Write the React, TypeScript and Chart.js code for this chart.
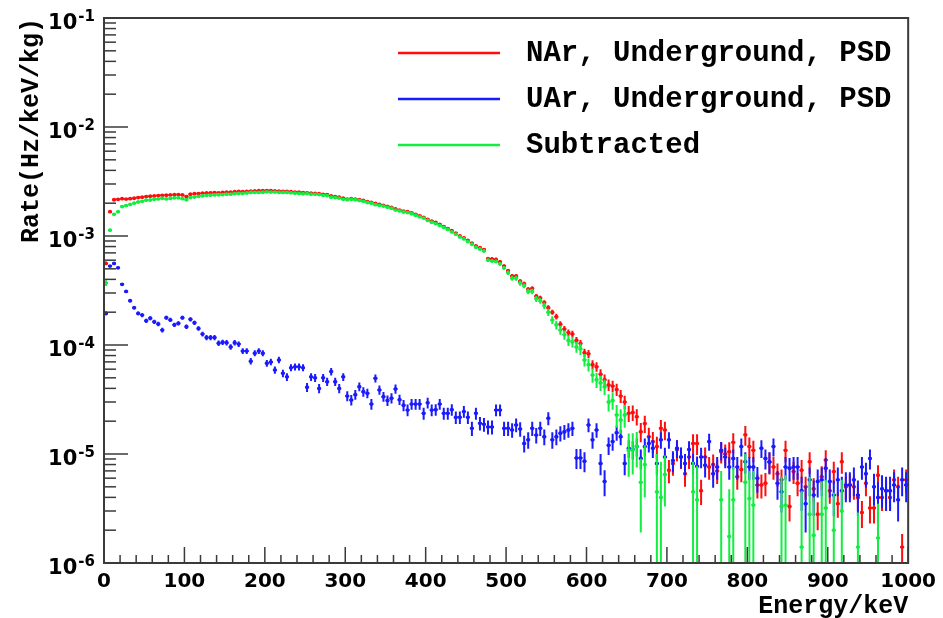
import React, { useEffect, useRef } from 'react';
import { Chart, registerables } from 'chart.js';

Chart.register(...registerables);

// ---------------- data ----------------
const BIN_WIDTH = 5; // keV
const N_BINS = 200;
const X_MIN = 0;
const X_MAX = 1000;
const X_TICK_LABELS = [0, 100, 200, 300, 400, 500, 600, 700, 800, 900, 1000];
const Y_MIN = 1e-6;
const Y_MAX = 1e-1;
const Y_DECADE_EXPONENTS = [-6, -5, -4, -3, -2, -1];
const SERIES_LABELS = ['NAr, Underground, PSD', 'UAr, Underground, PSD', 'Subtracted'];
const SERIES_COLORS = ['#ff0d0d', '#1a1aff', '#12ee40'];
const X_TITLE = 'Energy/keV';
const Y_TITLE = 'Rate(Hz/keV/kg)';

const ENERGY = Array.from({ length: N_BINS }, (_, i) => X_MIN + BIN_WIDTH * (i + 0.5));

const NAR = [
  5.6e-4, 1.67e-3, 2.15e-3, 2.17e-3, 2.2e-3, 2.18e-3, 2.2e-3, 2.22e-3, 2.25e-3, 2.27e-3,
  2.3e-3, 2.32e-3, 2.33e-3, 2.35e-3, 2.36e-3, 2.37e-3, 2.38e-3, 2.39e-3, 2.4e-3, 2.38e-3,
  2.3e-3, 2.42e-3, 2.44e-3, 2.45e-3, 2.47e-3, 2.48e-3, 2.49e-3, 2.5e-3, 2.49e-3, 2.51e-3,
  2.53e-3, 2.52e-3, 2.55e-3, 2.56e-3, 2.55e-3, 2.57e-3, 2.58e-3, 2.59e-3, 2.6e-3, 2.6e-3,
  2.61e-3, 2.6e-3, 2.59e-3, 2.58e-3, 2.57e-3, 2.56e-3, 2.55e-3, 2.53e-3, 2.52e-3, 2.5e-3,
  2.49e-3, 2.47e-3, 2.46e-3, 2.44e-3, 2.41e-3, 2.4e-3, 2.33e-3, 2.3e-3, 2.27e-3, 2.22e-3,
  2.18e-3, 2.2e-3, 2.18e-3, 2.16e-3, 2.12e-3, 2.07e-3, 2.03e-3, 1.99e-3, 1.95e-3, 1.91e-3,
  1.87e-3, 1.83e-3, 1.77e-3, 1.73e-3, 1.69e-3, 1.67e-3, 1.63e-3, 1.58e-3, 1.53e-3, 1.48e-3,
  1.42e-3, 1.37e-3, 1.33e-3, 1.28e-3, 1.22e-3, 1.17e-3, 1.12e-3, 1.06e-3, 1.0e-3, 9.6e-4,
  9.1e-4, 8.6e-4, 8.1e-4, 7.8e-4, 7.5e-4, 6.2e-4, 6.15e-4, 6.1e-4, 5.8e-4, 5.3e-4,
  4.8e-4, 4.3e-4, 4.3e-4, 3.85e-4, 3.65e-4, 3.25e-4, 3.3e-4, 2.8e-4, 2.7e-4, 2.45e-4,
  2.2e-4, 2.0e-4, 1.82e-4, 1.55e-4, 1.4e-4, 1.3e-4, 1.26e-4, 1.1e-4, 1.03e-4, 8.5e-5,
  8.3e-5, 6.6e-5, 6.3e-5, 5.4e-5, 4.8e-5, 4.3e-5, 4.2e-5, 3.9e-5, 3.4e-5, 3.0e-5,
  2.36e-5, 2.4e-5, 2.2e-5, 1.6e-5, 1.9e-5, 1.44e-5, 1.3e-5, 1.17e-5, 1.72e-5, 1.66e-5,
  7.1e-6, 8.2e-6, 1.1e-5, 9.4e-6, 6.6e-6, 9.4e-6, 1.25e-5, 1.25e-5, 4.6e-6, 9.4e-6,
  7.6e-6, 8.0e-6, 7.0e-6, 1.05e-5, 1.0e-5, 1.05e-5, 1.28e-5, 6.2e-6, 7.2e-6, 1.5e-5,
  1.17e-5, 1.08e-5, 5.2e-6, 5.2e-6, 5.4e-6, 8.4e-6, 7.6e-6, 6.6e-6, 5.8e-6, 1.08e-5,
  3.3e-6, 6.9e-6, 5.4e-6, 7.1e-6, 5.0e-6, 8.5e-6, 4.8e-6, 2.8e-6, 6.2e-6, 8.8e-6,
  4.6e-6, 6.9e-6, 3.5e-6, 8.5e-6, 5.0e-6, 5.2e-6, 5.0e-6, 4.0e-6, 2.9e-6, 5.4e-6,
  3.2e-6, 3.2e-6, 6.4e-6, 4.0e-6, 4.6e-6, 4.0e-6, 5.8e-6, 5.0e-6, 1.4e-6, 5.8e-6,
];

const NAR_ERR = [
  1.9e-5, 3.2e-5, 3.7e-5, 3.7e-5, 3.7e-5, 3.7e-5, 3.7e-5, 3.7e-5, 3.8e-5, 3.8e-5,
  3.8e-5, 3.8e-5, 3.8e-5, 3.8e-5, 3.9e-5, 3.9e-5, 3.9e-5, 3.9e-5, 3.9e-5, 3.9e-5,
  3.8e-5, 3.9e-5, 3.9e-5, 3.9e-5, 3.9e-5, 4.0e-5, 4.0e-5, 4.0e-5, 4.0e-5, 4.0e-5,
  4.0e-5, 4.0e-5, 4.0e-5, 4.0e-5, 4.0e-5, 4.0e-5, 4.0e-5, 4.0e-5, 4.0e-5, 4.0e-5,
  4.0e-5, 4.0e-5, 4.0e-5, 4.0e-5, 4.0e-5, 4.0e-5, 4.0e-5, 4.0e-5, 4.0e-5, 4.0e-5,
  4.0e-5, 3.9e-5, 3.9e-5, 3.9e-5, 3.9e-5, 3.9e-5, 3.8e-5, 3.8e-5, 3.8e-5, 3.7e-5,
  3.7e-5, 3.7e-5, 3.7e-5, 3.7e-5, 3.6e-5, 3.6e-5, 3.6e-5, 3.5e-5, 3.5e-5, 3.5e-5,
  3.4e-5, 3.4e-5, 3.3e-5, 3.3e-5, 3.3e-5, 3.2e-5, 3.2e-5, 3.2e-5, 3.1e-5, 3.1e-5,
  3.0e-5, 2.9e-5, 2.9e-5, 2.8e-5, 2.8e-5, 2.7e-5, 2.7e-5, 2.6e-5, 2.5e-5, 2.5e-5,
  2.4e-5, 2.3e-5, 2.3e-5, 2.2e-5, 2.2e-5, 2.0e-5, 2.0e-5, 2.0e-5, 1.9e-5, 1.8e-5,
  1.7e-5, 1.6e-5, 1.6e-5, 1.6e-5, 1.5e-5, 1.4e-5, 1.4e-5, 1.3e-5, 1.3e-5, 1.2e-5,
  1.2e-5, 1.1e-5, 1.1e-5, 9.9e-6, 9.4e-6, 9.0e-6, 8.9e-6, 8.3e-6, 8.1e-6, 7.3e-6,
  7.2e-6, 6.4e-6, 6.3e-6, 5.8e-6, 5.5e-6, 5.2e-6, 5.1e-6, 5.0e-6, 4.6e-6, 4.3e-6,
  3.9e-6, 3.9e-6, 3.7e-6, 3.2e-6, 3.4e-6, 3.0e-6, 2.9e-6, 2.7e-6, 3.3e-6, 3.2e-6,
  1.7e-6, 1.9e-6, 2.4e-6, 2.1e-6, 1.6e-6, 2.1e-6, 2.7e-6, 2.7e-6, 1.2e-6, 2.1e-6,
  1.8e-6, 1.9e-6, 1.7e-6, 2.3e-6, 2.2e-6, 2.3e-6, 2.7e-6, 1.5e-6, 1.7e-6, 3.1e-6,
  2.5e-6, 2.4e-6, 1.3e-6, 1.3e-6, 1.3e-6, 1.9e-6, 1.8e-6, 1.6e-6, 1.4e-6, 2.4e-6,
  0.9e-6, 1.6e-6, 1.3e-6, 1.7e-6, 1.2e-6, 1.9e-6, 1.2e-6, 0.8e-6, 1.5e-6, 2.0e-6,
  1.1e-6, 1.6e-6, 0.9e-6, 1.9e-6, 1.2e-6, 1.3e-6, 1.2e-6, 1.0e-6, 0.8e-6, 1.3e-6,
  0.9e-6, 0.9e-6, 1.5e-6, 1.0e-6, 1.1e-6, 1.0e-6, 1.4e-6, 1.2e-6, 0.45e-6, 1.4e-6,
];

const UAR = [
  1.95e-4, 5.3e-4, 5.6e-4, 5.1e-4, 3.6e-4, 3.1e-4, 2.55e-4, 2.2e-4, 1.95e-4, 1.88e-4,
  1.67e-4, 1.76e-4, 1.63e-4, 1.56e-4, 1.37e-4, 1.78e-4, 1.7e-4, 1.53e-4, 1.58e-4, 1.78e-4,
  1.47e-4, 1.72e-4, 1.6e-4, 1.42e-4, 1.26e-4, 1.17e-4, 1.17e-4, 1.17e-4, 1.04e-4, 1.06e-4,
  1.05e-4, 9.6e-5, 1.05e-4, 1.02e-4, 8.8e-5, 8.8e-5, 7.1e-5, 8.4e-5, 8.8e-5, 8.4e-5,
  6.8e-5, 7.0e-5, 5.9e-5, 7.3e-5, 5.5e-5, 5.1e-5, 6.2e-5, 6.3e-5, 6.3e-5, 6.2e-5,
  4.1e-5, 5.1e-5, 5.0e-5, 4.0e-5, 5.0e-5, 4.6e-5, 5.7e-5, 4.6e-5, 4.0e-5, 5.1e-5,
  3.4e-5, 3.13e-5, 3.5e-5, 4.15e-5, 3.73e-5, 3.6e-5, 2.87e-5, 4.95e-5, 3.87e-5, 3.36e-5,
  3.1e-5, 3.25e-5, 3.95e-5, 3.15e-5, 2.8e-5, 2.53e-5, 2.87e-5, 2.87e-5, 2.87e-5, 2.36e-5,
  2.95e-5, 2.53e-5, 2.55e-5, 2.87e-5, 2.36e-5, 2.36e-5, 2.55e-5, 2.17e-5, 2.17e-5, 2.45e-5,
  2.17e-5, 1.72e-5, 2.36e-5, 1.91e-5, 1.87e-5, 1.77e-5, 1.77e-5, 2.53e-5, 2.53e-5, 1.72e-5,
  1.72e-5, 1.66e-5, 1.85e-5, 1.7e-5, 1.25e-5, 1.35e-5, 1.72e-5, 1.49e-5, 1.72e-5, 1.44e-5,
  2.13e-5, 1.35e-5, 1.44e-5, 1.55e-5, 1.6e-5, 1.66e-5, 1.72e-5, 9.2e-6, 9.2e-6, 8.6e-6,
  1.85e-5, 1.35e-5, 1.66e-5, 8.2e-6, 5.6e-6, 1.2e-5, 1.3e-5, 1.57e-5, 1.44e-5, 8.2e-6,
  1.13e-5, 1.1e-5, 1.17e-5, 9.1e-6, 1.17e-5, 1.25e-5, 1.13e-5, 8.2e-6, 1.35e-5, 9.4e-6,
  1.35e-5, 8.7e-6, 1.13e-5, 9.4e-6, 8.2e-6, 1.1e-5, 8.2e-6, 7.7e-6, 9.4e-6, 7.9e-6,
  1.3e-5, 6.6e-6, 7.6e-6, 1.08e-5, 9.4e-6, 7.6e-6, 9.1e-6, 7.6e-6, 1.17e-5, 8.5e-6,
  7.6e-6, 7.6e-6, 6.0e-6, 1.13e-5, 9.1e-6, 8.5e-6, 1.17e-5, 5.4e-6, 4.5e-6, 7.6e-6,
  7.4e-6, 7.6e-6, 7.6e-6, 4.6e-6, 3.5e-6, 5.8e-6, 4.2e-6, 5.6e-6, 5.8e-6, 7.4e-6,
  5.6e-6, 4.2e-6, 5.8e-6, 4.6e-6, 5.2e-6, 5.2e-6, 5.8e-6, 4.2e-6, 7.6e-6, 6.6e-6,
  9.1e-6, 5.0e-6, 4.0e-6, 4.8e-6, 4.6e-6, 4.6e-6, 5.2e-6, 3.8e-6, 5.8e-6, 5.2e-6,
];

const UAR_ERR = [
  8.0e-6, 1.3e-5, 1.3e-5, 1.3e-5, 1.1e-5, 1.0e-5, 9.0e-6, 8.5e-6, 8.0e-6, 8.0e-6,
  7.5e-6, 7.7e-6, 7.4e-6, 7.2e-6, 6.8e-6, 7.7e-6, 7.5e-6, 7.1e-6, 7.2e-6, 7.7e-6,
  7.0e-6, 7.6e-6, 7.3e-6, 6.9e-6, 6.5e-6, 6.3e-6, 6.3e-6, 6.3e-6, 5.9e-6, 6.0e-6,
  5.9e-6, 5.7e-6, 5.9e-6, 5.9e-6, 5.4e-6, 5.4e-6, 4.9e-6, 5.3e-6, 5.4e-6, 5.3e-6,
  4.8e-6, 4.9e-6, 4.5e-6, 5.0e-6, 4.4e-6, 4.2e-6, 4.6e-6, 4.7e-6, 4.7e-6, 4.6e-6,
  3.9e-6, 4.2e-6, 4.2e-6, 3.9e-6, 4.2e-6, 4.0e-6, 4.4e-6, 4.0e-6, 3.9e-6, 4.2e-6,
  3.6e-6, 3.5e-6, 3.6e-6, 3.8e-6, 3.7e-6, 3.6e-6, 3.3e-6, 4.1e-6, 3.7e-6, 3.5e-6,
  3.4e-6, 3.5e-6, 3.8e-6, 3.4e-6, 3.3e-6, 3.1e-6, 3.3e-6, 3.3e-6, 3.3e-6, 3.0e-6,
  3.3e-6, 3.1e-6, 3.1e-6, 3.3e-6, 3.0e-6, 3.0e-6, 3.1e-6, 2.9e-6, 2.9e-6, 3.0e-6,
  2.9e-6, 2.6e-6, 3.0e-6, 2.7e-6, 2.7e-6, 2.6e-6, 2.6e-6, 3.1e-6, 3.1e-6, 2.6e-6,
  2.6e-6, 2.5e-6, 2.7e-6, 2.6e-6, 2.2e-6, 2.3e-6, 2.6e-6, 2.4e-6, 2.6e-6, 2.4e-6,
  2.9e-6, 2.3e-6, 2.4e-6, 2.5e-6, 2.5e-6, 2.5e-6, 2.6e-6, 1.9e-6, 1.9e-6, 1.8e-6,
  2.7e-6, 2.3e-6, 2.5e-6, 1.8e-6, 1.5e-6, 2.2e-6, 2.3e-6, 2.5e-6, 2.4e-6, 1.8e-6,
  2.1e-6, 2.1e-6, 2.2e-6, 1.9e-6, 2.2e-6, 2.2e-6, 2.1e-6, 1.8e-6, 2.3e-6, 2.0e-6,
  2.3e-6, 1.9e-6, 2.1e-6, 2.0e-6, 1.8e-6, 2.1e-6, 1.8e-6, 1.8e-6, 2.0e-6, 1.8e-6,
  2.3e-6, 1.7e-6, 1.8e-6, 2.1e-6, 2.0e-6, 1.8e-6, 1.9e-6, 1.8e-6, 2.2e-6, 1.9e-6,
  1.8e-6, 1.8e-6, 1.6e-6, 2.1e-6, 1.9e-6, 1.9e-6, 2.2e-6, 1.6e-6, 1.6e-6, 1.8e-6,
  1.8e-6, 1.8e-6, 1.8e-6, 1.6e-6, 1.6e-6, 1.7e-6, 1.5e-6, 1.6e-6, 1.7e-6, 1.8e-6,
  1.6e-6, 1.5e-6, 1.7e-6, 1.6e-6, 1.6e-6, 1.6e-6, 1.7e-6, 1.5e-6, 1.8e-6, 1.7e-6,
  1.9e-6, 1.6e-6, 1.5e-6, 1.6e-6, 1.6e-6, 1.6e-6, 1.6e-6, 1.4e-6, 1.7e-6, 1.6e-6,
];

const SUBTRACTED = [
  3.7e-4, 1.13e-3, 1.58e-3, 1.67e-3, 1.86e-3, 1.9e-3, 1.95e-3, 2.0e-3, 2.05e-3, 2.08e-3,
  2.13e-3, 2.14e-3, 2.17e-3, 2.19e-3, 2.22e-3, 2.19e-3, 2.21e-3, 2.24e-3, 2.24e-3, 2.2e-3,
  2.15e-3, 2.25e-3, 2.28e-3, 2.31e-3, 2.34e-3, 2.36e-3, 2.37e-3, 2.38e-3, 2.39e-3, 2.4e-3,
  2.42e-3, 2.42e-3, 2.45e-3, 2.46e-3, 2.46e-3, 2.48e-3, 2.51e-3, 2.51e-3, 2.51e-3, 2.52e-3,
  2.54e-3, 2.53e-3, 2.53e-3, 2.51e-3, 2.51e-3, 2.51e-3, 2.49e-3, 2.47e-3, 2.46e-3, 2.44e-3,
  2.45e-3, 2.42e-3, 2.41e-3, 2.4e-3, 2.36e-3, 2.35e-3, 2.27e-3, 2.25e-3, 2.23e-3, 2.17e-3,
  2.15e-3, 2.17e-3, 2.15e-3, 2.12e-3, 2.08e-3, 2.03e-3, 2.0e-3, 1.94e-3, 1.91e-3, 1.88e-3,
  1.84e-3, 1.8e-3, 1.73e-3, 1.7e-3, 1.66e-3, 1.64e-3, 1.6e-3, 1.55e-3, 1.5e-3, 1.46e-3,
  1.39e-3, 1.34e-3, 1.3e-3, 1.25e-3, 1.2e-3, 1.15e-3, 1.09e-3, 1.04e-3, 9.8e-4, 9.4e-4,
  8.9e-4, 8.4e-4, 7.9e-4, 7.6e-4, 7.3e-4, 6.0e-4, 5.9e-4, 5.85e-4, 5.55e-4, 5.1e-4,
  4.6e-4, 4.1e-4, 4.1e-4, 3.7e-4, 3.5e-4, 3.1e-4, 3.1e-4, 2.65e-4, 2.55e-4, 2.3e-4,
  2.0e-4, 1.7e-4, 1.53e-4, 1.37e-4, 1.24e-4, 1.1e-4, 1.07e-4, 9.6e-5, 9.2e-5, 7.3e-5,
  6.6e-5, 5.3e-5, 4.8e-5, 4.5e-5, 4.15e-5, 3.0e-5, 3.1e-5, 2.28e-5, 2.05e-5, 2.28e-5,
  1.08e-5, 1.1e-5, 1.17e-5, 5.5e-6, 8.0e-6, null, null, 4.5e-6, 4.0e-6, 6.5e-6,
  null, null, null, null, null, null, 4.5e-6, 3.8e-6, null, null,
  null, null, null, 3.8e-6, null, 1.75e-6, 3.8e-6, null, null, 5.5e-6,
  3.9e-6, 3.4e-6, null, null, null, null, null, null, 3.3e-6, 3.4e-6,
  null, null, null, 1.4e-6, null, 2.8e-6, 1.8e-6, null, 2.8e-6, 3.2e-6,
  null, 2.0e-6, null, 3.0e-6, null, null, null, 1.4e-6, null, null,
  null, null, 1.7e-6, null, null, null, null, null, null, null,
];

const SUBTRACTED_ERR = [
  2.2e-5, 3.5e-5, 3.8e-5, 3.8e-5, 3.9e-5, 3.9e-5, 3.9e-5, 3.9e-5, 4.0e-5, 4.0e-5,
  4.0e-5, 4.0e-5, 4.0e-5, 4.0e-5, 4.1e-5, 4.1e-5, 4.1e-5, 4.1e-5, 4.1e-5, 4.1e-5,
  4.0e-5, 4.1e-5, 4.1e-5, 4.1e-5, 4.1e-5, 4.2e-5, 4.2e-5, 4.2e-5, 4.2e-5, 4.2e-5,
  4.2e-5, 4.2e-5, 4.2e-5, 4.2e-5, 4.2e-5, 4.2e-5, 4.2e-5, 4.2e-5, 4.2e-5, 4.2e-5,
  4.2e-5, 4.2e-5, 4.2e-5, 4.2e-5, 4.2e-5, 4.2e-5, 4.2e-5, 4.2e-5, 4.2e-5, 4.2e-5,
  4.2e-5, 4.1e-5, 4.1e-5, 4.1e-5, 4.1e-5, 4.1e-5, 4.0e-5, 4.0e-5, 4.0e-5, 3.9e-5,
  3.9e-5, 3.9e-5, 3.9e-5, 3.9e-5, 3.8e-5, 3.8e-5, 3.8e-5, 3.7e-5, 3.7e-5, 3.7e-5,
  3.6e-5, 3.6e-5, 3.5e-5, 3.5e-5, 3.5e-5, 3.4e-5, 3.4e-5, 3.4e-5, 3.3e-5, 3.3e-5,
  3.2e-5, 3.1e-5, 3.1e-5, 3.0e-5, 3.0e-5, 2.9e-5, 2.9e-5, 2.8e-5, 2.7e-5, 2.7e-5,
  2.6e-5, 2.5e-5, 2.5e-5, 2.4e-5, 2.4e-5, 2.2e-5, 2.2e-5, 2.2e-5, 2.1e-5, 2.0e-5,
  2.2e-5, 2.1e-5, 2.1e-5, 2.0e-5, 1.9e-5, 1.8e-5, 1.8e-5, 1.7e-5, 1.6e-5, 1.6e-5,
  1.5e-5, 1.4e-5, 1.4e-5, 1.3e-5, 1.2e-5, 1.2e-5, 1.2e-5, 1.1e-5, 1.1e-5, 9.5e-6,
  9.0e-6, 8.0e-6, 7.6e-6, 7.2e-6, 6.8e-6, 5.4e-6, 5.6e-6, 5.4e-6, 5.2e-6, 5.4e-6,
  4.6e-6, 4.5e-6, 4.2e-6, 3.6e-6, 4.0e-6, 0, 0, 5.5e-6, 4.5e-6, 3.2e-6,
  0, 0, 0, 0, 0, 0, 4.0e-6, 4.0e-6, 0, 0,
  0, 0, 0, 3.2e-6, 0, 3.0e-6, 3.8e-6, 0, 0, 4.5e-6,
  3.1e-6, 3.6e-6, 0, 0, 0, 0, 0, 0, 2.9e-6, 3.0e-6,
  0, 0, 0, 3.2e-6, 0, 3.4e-6, 2.2e-6, 0, 2.8e-6, 2.6e-6,
  0, 2.4e-6, 0, 2.8e-6, 0, 0, 0, 1.5e-6, 0, 0,
  0, 0, 1.8e-6, 0, 0, 0, 0, 0, 0, 0,
];

// ---------------- helpers ----------------
const makePoints = (vals: (number | null)[], errs: number[]) =>
  ENERGY.map((x, i) => ({ x, y: vals[i], e: errs[i] })).filter((p) => p.y != null && (p.y as number) > 0);

const TICK_FONT = '"DejaVu Sans", sans-serif';
const MONO_FONT = '"Liberation Mono", "Courier New", monospace';
const FRAME_COLOR = '#3a3a3a';

const errorBarPlugin = {
  id: 'rootErrorBars',
  beforeDatasetDraw(chart: any, args: any) {
    const ds = chart.data.datasets[args.index];
    const { ctx, chartArea: a, scales } = chart;
    const xs = scales.x;
    const ys = scales.y;
    ctx.save();
    ctx.beginPath();
    ctx.rect(a.left, a.top, a.right - a.left, a.bottom - a.top);
    ctx.clip();
    ctx.strokeStyle = ds.borderColor;
    ctx.lineWidth = 2;
    ctx.lineCap = 'butt';
    for (const p of ds.data) {
      const px = xs.getPixelForValue(p.x);
      const py = ys.getPixelForValue(p.y);
      const hi = ys.getPixelForValue(p.y + p.e);
      const lo = p.y - p.e > 0 ? ys.getPixelForValue(p.y - p.e) : a.bottom + 4;
      ctx.beginPath();
      ctx.moveTo(px, hi);
      ctx.lineTo(px, lo);
      ctx.stroke();
      const xl = xs.getPixelForValue(p.x - BIN_WIDTH / 2);
      const xr = xs.getPixelForValue(p.x + BIN_WIDTH / 2);
      ctx.beginPath();
      ctx.moveTo(xl, py);
      ctx.lineTo(xr, py);
      ctx.stroke();
    }
    ctx.restore();
  },
};

const frameAndLegendPlugin = {
  id: 'rootFrame',
  afterDraw(chart: any) {
    const { ctx, chartArea: a, scales } = chart;
    const xs = scales.x;
    const ys = scales.y;
    ctx.save();
    // tick marks (inside the frame)
    ctx.strokeStyle = FRAME_COLOR;
    ctx.lineWidth = 1.5;
    const step = X_TICK_LABELS[1] - X_TICK_LABELS[0];
    for (let k = 0; k < X_TICK_LABELS.length - 1; k++) {
      for (let m = 1; m < 5; m++) {
        const px = xs.getPixelForValue(X_TICK_LABELS[k] + (step * m) / 5);
        ctx.beginPath();
        ctx.moveTo(px, a.bottom);
        ctx.lineTo(px, a.bottom - 8);
        ctx.stroke();
      }
    }
    for (const v of X_TICK_LABELS) {
      const px = xs.getPixelForValue(v);
      ctx.beginPath();
      ctx.moveTo(px, a.bottom);
      ctx.lineTo(px, a.bottom - 16);
      ctx.stroke();
    }
    for (const n of Y_DECADE_EXPONENTS) {
      const dec = Math.pow(10, n);
      const py = ys.getPixelForValue(dec);
      ctx.beginPath();
      ctx.moveTo(a.left, py);
      ctx.lineTo(a.left + 24, py);
      ctx.stroke();
      if (dec < Y_MAX) {
        for (let m = 2; m <= 9; m++) {
          const pm = ys.getPixelForValue(m * dec);
          ctx.beginPath();
          ctx.moveTo(a.left, pm);
          ctx.lineTo(a.left + 12, pm);
          ctx.stroke();
        }
      }
    }
    // frame
    ctx.lineWidth = 2;
    ctx.strokeRect(a.left, a.top, a.right - a.left, a.bottom - a.top);

    // y tick labels 10^n
    ctx.fillStyle = '#000';
    ctx.textAlign = 'left';
    ctx.textBaseline = 'alphabetic';
    const rightEdge = 95;
    for (const n of Y_DECADE_EXPONENTS) {
      const py = ys.getPixelForValue(Math.pow(10, n));
      const expText = String(n);
      ctx.font = `bold 15px ${TICK_FONT}`;
      const ew = ctx.measureText(expText).width;
      ctx.font = `bold 21px ${TICK_FONT}`;
      const bw = ctx.measureText('10').width;
      const x0 = rightEdge - ew - bw - 1;
      ctx.fillText('10', x0, py + 10.5);
      ctx.font = `bold 15px ${TICK_FONT}`;
      ctx.fillText(expText, x0 + bw + 1, py + 3);
    }

    // legend
    const rows = [53, 99, 145];
    SERIES_LABELS.forEach((label, i) => {
      ctx.strokeStyle = SERIES_COLORS[i];
      ctx.lineWidth = 2.5;
      ctx.beginPath();
      ctx.moveTo(398, rows[i]);
      ctx.lineTo(500, rows[i]);
      ctx.stroke();
      ctx.fillStyle = '#000';
      ctx.font = `bold 29px ${MONO_FONT}`;
      ctx.textBaseline = 'middle';
      ctx.textAlign = 'left';
      ctx.fillText(label, 526, rows[i] + 1);
    });
    ctx.restore();
  },
};

export default function App() {
  const canvasRef = useRef<HTMLCanvasElement | null>(null);

  useEffect(() => {
    const canvas = canvasRef.current;
    if (!canvas) return;
    const seriesVals = [NAR, UAR, SUBTRACTED];
    const seriesErrs = [NAR_ERR, UAR_ERR, SUBTRACTED_ERR];
    const drawOrder = [2, 1, 0];
    const chart = new Chart(canvas, {
      type: 'scatter',
      data: {
        datasets: SERIES_LABELS.map((label, i) => ({
          label,
          data: makePoints(seriesVals[i], seriesErrs[i]) as any,
          borderColor: SERIES_COLORS[i],
          backgroundColor: SERIES_COLORS[i],
          pointRadius: 1.9,
          pointBorderWidth: 0,
          pointHoverRadius: 1.9,
          showLine: false,
          order: drawOrder[i],
        })),
      },
      options: {
        animation: false,
        responsive: false,
        maintainAspectRatio: false,
        events: [],
        layout: { padding: { left: 0, right: 33, top: 18, bottom: 0 } },
        plugins: {
          legend: { display: false },
          tooltip: { enabled: false },
        },
        scales: {
          x: {
            type: 'linear',
            min: X_MIN,
            max: X_MAX,
            afterBuildTicks: (s: any) => {
              s.ticks = X_TICK_LABELS.map((v) => ({ value: v }));
            },
            afterFit: (s: any) => {
              s.height = 55;
            },
            ticks: {
              autoSkip: false,
              maxRotation: 0,
              padding: 7,
              color: '#000',
              font: { family: TICK_FONT, weight: 'bold', size: 20 },
              callback: (v: any) => String(v),
            },
            grid: { display: false, drawTicks: false },
            border: { display: false },
            title: {
              display: true,
              text: X_TITLE,
              align: 'end',
              color: '#000',
              font: { family: MONO_FONT, weight: 'bold', size: 25, lineHeight: 0.9 },
              padding: { top: 0, bottom: 0 },
            },
          },
          y: {
            type: 'logarithmic',
            min: Y_MIN,
            max: Y_MAX,
            afterFit: (s: any) => {
              s.width = 104;
            },
            ticks: { display: false },
            grid: { display: false, drawTicks: false },
            border: { display: false },
            title: {
              display: true,
              text: Y_TITLE,
              align: 'end',
              color: '#000',
              font: { family: MONO_FONT, weight: 'bold', size: 25, lineHeight: 1 },
              padding: { top: 19, bottom: 0 },
            },
          },
        },
      } as any,
      plugins: [errorBarPlugin, frameAndLegendPlugin],
    });
    return () => chart.destroy();
  }, []);

  return (
    <div style={{ position: 'fixed', left: 0, top: 0, width: 943, height: 618, background: '#fff' }}>
      <canvas ref={canvasRef} width={943} height={618} style={{ width: 943, height: 618, display: 'block' }} />
    </div>
  );
}
